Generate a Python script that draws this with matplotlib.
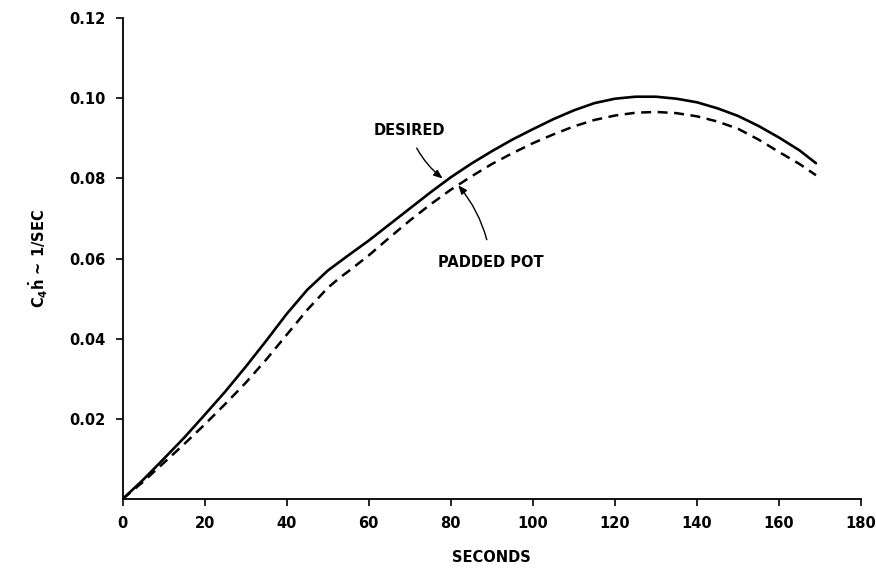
import matplotlib
matplotlib.use("Agg")
import matplotlib.pyplot as plt

plt.rcParams['font.family'] = ['Liberation Sans Narrow', 'DejaVu Sans']
plt.rcParams['mathtext.fontset'] = 'custom'
plt.rcParams['mathtext.rm'] = 'Liberation Sans Narrow:bold'
plt.rcParams['mathtext.it'] = 'Liberation Sans Narrow:bold'
plt.rcParams['mathtext.bf'] = 'Liberation Sans Narrow:bold'

# Data
desired_t = [0, 5, 10, 15, 20, 25, 30, 35, 40, 45, 50, 55, 60, 65, 70, 75, 80, 85, 90, 95,
             100, 105, 110, 115, 120, 125, 130, 135, 140, 145, 150, 155, 160, 165, 169]
desired_v = [0, 0.0048, 0.0100, 0.0153, 0.0210, 0.0268, 0.0330, 0.0395, 0.0462, 0.0522,
             0.0570, 0.0608, 0.0645, 0.0685, 0.0725, 0.0765, 0.0803, 0.0837, 0.0868, 0.0897,
             0.0923, 0.0948, 0.0970, 0.0988, 0.0999, 0.1004, 0.1004, 0.0999, 0.0990, 0.0975,
             0.0956, 0.0931, 0.0902, 0.0870, 0.0838]

padded_t = [0, 5, 10, 15, 20, 25, 30, 35, 40, 45, 50, 53, 55, 60, 65, 70, 75, 80, 85, 90, 95,
            100, 105, 110, 115, 120, 125, 130, 135, 140, 145, 150, 155, 160, 165, 169]
padded_v = [0, 0.0043, 0.0090, 0.0137, 0.0186, 0.0237, 0.0290, 0.0348, 0.0410, 0.0472,
            0.0527, 0.0553, 0.0568, 0.0608, 0.0652, 0.0695, 0.0735, 0.0772, 0.0805, 0.0836,
            0.0863, 0.0888, 0.0910, 0.0930, 0.0946, 0.0957, 0.0964, 0.0966, 0.0963, 0.0955,
            0.0942, 0.0924, 0.0897, 0.0866, 0.0836, 0.0808]

x_ticks = [0, 20, 40, 60, 80, 100, 120, 140, 160, 180]
y_ticks = [0.02, 0.04, 0.06, 0.08, 0.10, 0.12]

fig = plt.figure(figsize=(8.76, 5.68), dpi=100)
ax = fig.add_axes([0.140, 0.1215, 0.843, 0.8465])

ax.plot(desired_t, desired_v, color='black', lw=1.9, solid_capstyle='round', solid_joinstyle='round')
ax.plot(padded_t, padded_v, color='black', lw=1.8, linestyle=(0, (4, 2.6)))

ax.set_xlim(0, 180)
ax.set_ylim(0, 0.12)
ax.set_xticks(x_ticks)
ax.set_xticklabels([str(v) for v in x_ticks])
ax.set_yticks(y_ticks)
ax.set_yticklabels(['%.2f' % v for v in y_ticks])

for s in ['top', 'right']:
    ax.spines[s].set_visible(False)
for s in ['left', 'bottom']:
    ax.spines[s].set_linewidth(1.3)

ax.tick_params(axis='both', direction='out', length=5, width=1.2, labelsize=10.5, pad=7)
for lab in ax.get_xticklabels() + ax.get_yticklabels():
    lab.set_fontweight('bold')

ax.set_xlabel('SECONDS', fontsize=10.5, fontweight='bold', labelpad=14)
ax.set_ylabel(r'$\mathregular{C_4\dot{h}}$ ~ 1/SEC', fontsize=10.5, fontweight='bold', labelpad=14)

ax.annotate('DESIRED', xy=(78.0, 0.0800), xytext=(69.8, 0.0920),
            fontsize=10.5, fontweight='bold', ha='center', va='center',
            arrowprops=dict(arrowstyle='-|>,head_length=0.5,head_width=0.2', color='black', lw=1.0,
                            connectionstyle='arc3,rad=0.15', shrinkA=6, shrinkB=0))
ax.annotate('PADDED POT', xy=(81.8, 0.0783), xytext=(89.8, 0.0591),
            fontsize=10.5, fontweight='bold', ha='center', va='center',
            arrowprops=dict(arrowstyle='-|>,head_length=0.5,head_width=0.2', color='black', lw=1.0,
                            connectionstyle='arc3,rad=0.15', shrinkA=9, shrinkB=0))

fig.savefig('out.png', dpi=100)
